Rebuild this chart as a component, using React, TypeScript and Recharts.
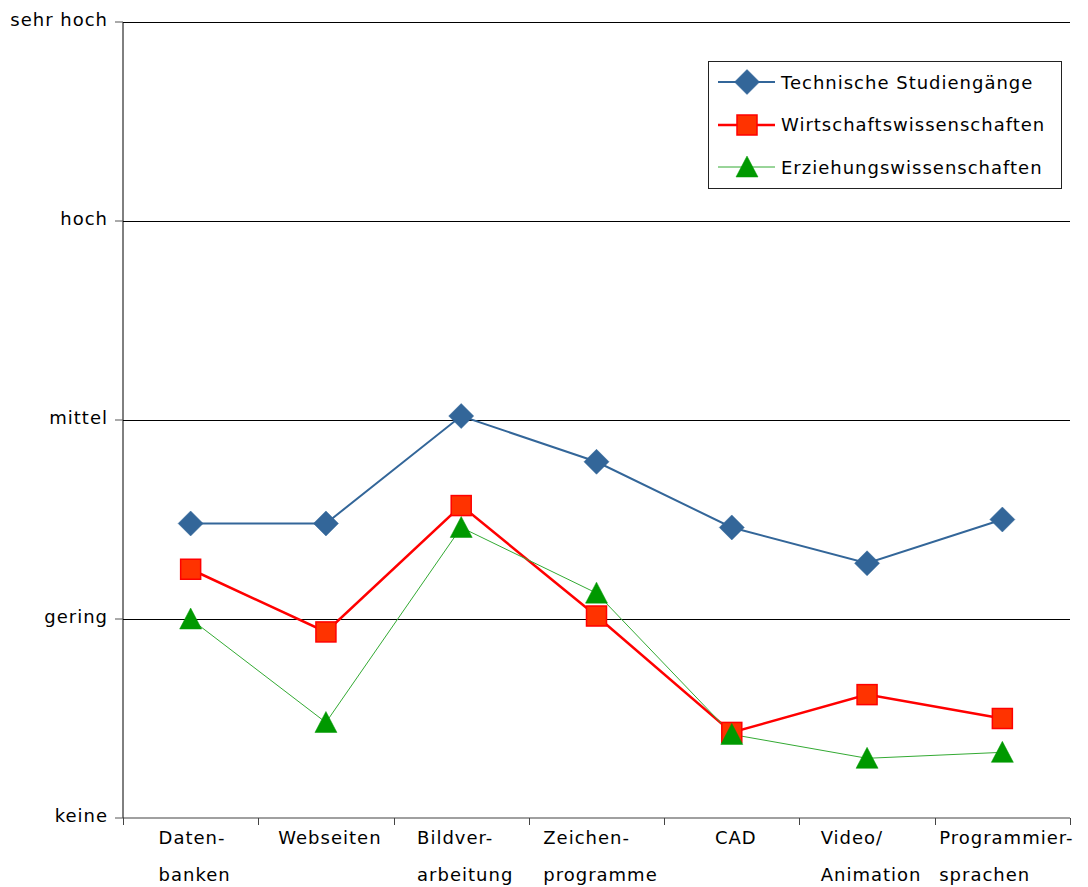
import React from 'react';
import { LineChart, Line, XAxis, YAxis, ReferenceLine, Legend } from 'recharts';

const categories = ['Daten-\nbanken', 'Webseiten', 'Bildver-\narbeitung', 'Zeichen-\nprogramme', 'CAD', 'Video/\nAnimation', 'Programmier-\nsprachen'];
const technische = [1.48, 1.48, 2.02, 1.79, 1.46, 1.28, 1.5];
const wirtschaft = [1.25, 0.935, 1.57, 1.015, 0.43, 0.62, 0.5];
const erziehung = [1.0, 0.48, 1.46, 1.13, 0.42, 0.3, 0.33];
const levelLabels = ['keine', 'gering', 'mittel', 'hoch', 'sehr hoch'];
const levelTicks = [0, 1, 2, 3, 4];
const gridLevels = [1, 2, 3, 4];
const seriesNames = ['Technische Studiengänge', 'Wirtschaftswissenschaften', 'Erziehungswissenschaften'];

const data = categories.map((name, i) => ({
  name,
  tech: technische[i],
  wirt: wirtschaft[i],
  erz: erziehung[i],
}));

const FONT = '"DejaVu Sans", sans-serif';
const FS = 18;
const LS = 1;

const BLUE = '#336699';
const RED = '#FF0000';
const RED_FILL = '#FF3300';
const GREEN_LINE = '#33AA33';
const GREEN = '#009900';

let ctx: CanvasRenderingContext2D | null = null;
const measure = (s: string) => {
  if (!ctx) {
    ctx = document.createElement('canvas').getContext('2d');
  }
  if (!ctx) return s.length * 11;
  ctx.font = `${FS}px "DejaVu Sans"`;
  return ctx.measureText(s).width + s.length * LS;
};

const Diamond = (props: any) => {
  const { cx, cy } = props;
  if (cx == null || cy == null) return null;
  const r = 12.5;
  return (
    <polygon
      points={`${cx},${cy - r} ${cx + r},${cy} ${cx},${cy + r} ${cx - r},${cy}`}
      fill={BLUE}
      stroke={BLUE}
      strokeWidth={0.5}
    />
  );
};

const Square = (props: any) => {
  const { cx, cy } = props;
  if (cx == null || cy == null) return null;
  const s = 10;
  return <rect x={cx - s} y={cy - s} width={2 * s} height={2 * s} fill={RED_FILL} stroke={RED} strokeWidth={1.5} />;
};

const Triangle = (props: any) => {
  const { cx, cy } = props;
  if (cx == null || cy == null) return null;
  return (
    <polygon
      points={`${cx},${cy - 11} ${cx + 11},${cy + 10} ${cx - 11},${cy + 10}`}
      fill={GREEN}
      stroke={GREEN}
      strokeWidth={0.5}
    />
  );
};

const XTick = (props: any) => {
  const { x, y, payload, index, visibleTicksCount } = props;
  const lines = String(payload.value).split('\n');
  const w = Math.max(...lines.map(measure));
  const half = payload.offset || 0;
  const left = Math.round(x - half) + 0.5;
  const right = Math.round(x + half) + 0.5;
  const isLast = index === (visibleTicksCount ?? categories.length) - 1;
  return (
    <g>
      <line x1={left} y1={y} x2={left} y2={y + 7} stroke="#444" strokeWidth={1} />
      {isLast && <line x1={right} y1={y} x2={right} y2={y + 7} stroke="#444" strokeWidth={1} />}
      <text fontFamily={FONT} fontSize={FS} letterSpacing={LS} fill="#000" textAnchor="start">
        {lines.map((l, i) => (
          <tspan key={i} x={x - w / 2 + 4} y={y + 26 + i * 37}>
            {l}
          </tspan>
        ))}
      </text>
    </g>
  );
};

const YTick = (props: any) => {
  const { x, y, payload } = props;
  return (
    <text x={x} y={y - 2} dy="0.355em" fontFamily={FONT} fontSize={FS} letterSpacing={LS} fill="#000" textAnchor="end">
      {levelLabels[payload.value]}
    </text>
  );
};

const LegendContent = () => {
  const icons = [
    (cx: number, cy: number) => (
      <>
        <line x1={0} y1={cy} x2={57} y2={cy} stroke={BLUE} strokeWidth={2} />
        <Diamond cx={cx} cy={cy} />
      </>
    ),
    (cx: number, cy: number) => (
      <>
        <line x1={0} y1={cy} x2={57} y2={cy} stroke={RED} strokeWidth={2.5} />
        <Square cx={cx} cy={cy} />
      </>
    ),
    (cx: number, cy: number) => (
      <>
        <line x1={0} y1={cy} x2={57} y2={cy} stroke={GREEN_LINE} strokeWidth={1} />
        <Triangle cx={cx} cy={cy} />
      </>
    ),
  ];
  return (
    <div
      style={{
        width: 352,
        height: 126,
        border: '1px solid #222',
        background: '#fff',
        position: 'relative',
      }}
    >
      {seriesNames.map((n, i) => (
        <div
          key={n}
          style={{
            position: 'absolute',
            left: 9,
            top: 20 + i * 42.5 - 14,
            height: 28,
            display: 'flex',
            alignItems: 'center',
          }}
        >
          <svg width={60} height={28} style={{ display: 'block' }}>
            {icons[i](29, 14)}
          </svg>
          <span
            style={{
              fontFamily: FONT,
              fontSize: FS,
              letterSpacing: 1,
              color: '#000',
              marginLeft: 3,
              whiteSpace: 'nowrap',
            }}
          >
            {n}
          </span>
        </div>
      ))}
    </div>
  );
};

export default function App() {
  return (
    <div style={{ position: 'absolute', left: 0, top: 0, width: 1088, height: 887, background: '#fff' }}>
      <LineChart width={1088} height={887} data={data} margin={{ top: 22, right: 18, bottom: 0, left: 0 }}>
        <XAxis
          xAxisId="cat"
          dataKey="name"
          type="category"
          scale="band"
          height={69}
          axisLine={{ stroke: '#808080', strokeWidth: 1.5 }}
          tickLine={false}
          tickSize={0}
          tickMargin={0}
          interval={0}
          tick={<XTick />}
        />
        <YAxis
          type="number"
          domain={[0, 4]}
          ticks={levelTicks}
          width={123}
          tickSize={8}
          tickMargin={7}
          interval={0}
          axisLine={{ stroke: '#000' }}
          tickLine={{ stroke: '#555' }}
          tick={<YTick />}
        />
        {gridLevels.map((v) => (
          <ReferenceLine key={v} y={v} xAxisId="cat" stroke="#000" strokeWidth={1} shapeRendering="crispEdges" />
        ))}
        <Legend
          layout="vertical"
          align="center"
          verticalAlign="middle"
          wrapperStyle={{ left: 708, top: 61, width: 354 }}
          content={<LegendContent />}
        />
        <Line
          xAxisId="cat"
          dataKey="tech"
          stroke={BLUE}
          strokeWidth={2}
          dot={(p: any) => <Diamond key={`d${p.index}`} {...p} />}
          isAnimationActive={false}
        />
        <Line
          xAxisId="cat"
          dataKey="wirt"
          stroke={RED}
          strokeWidth={2.5}
          dot={(p: any) => <Square key={`s${p.index}`} {...p} />}
          isAnimationActive={false}
        />
        <Line
          xAxisId="cat"
          dataKey="erz"
          stroke={GREEN_LINE}
          strokeWidth={1}
          dot={(p: any) => <Triangle key={`t${p.index}`} {...p} />}
          isAnimationActive={false}
        />
      </LineChart>
    </div>
  );
}
